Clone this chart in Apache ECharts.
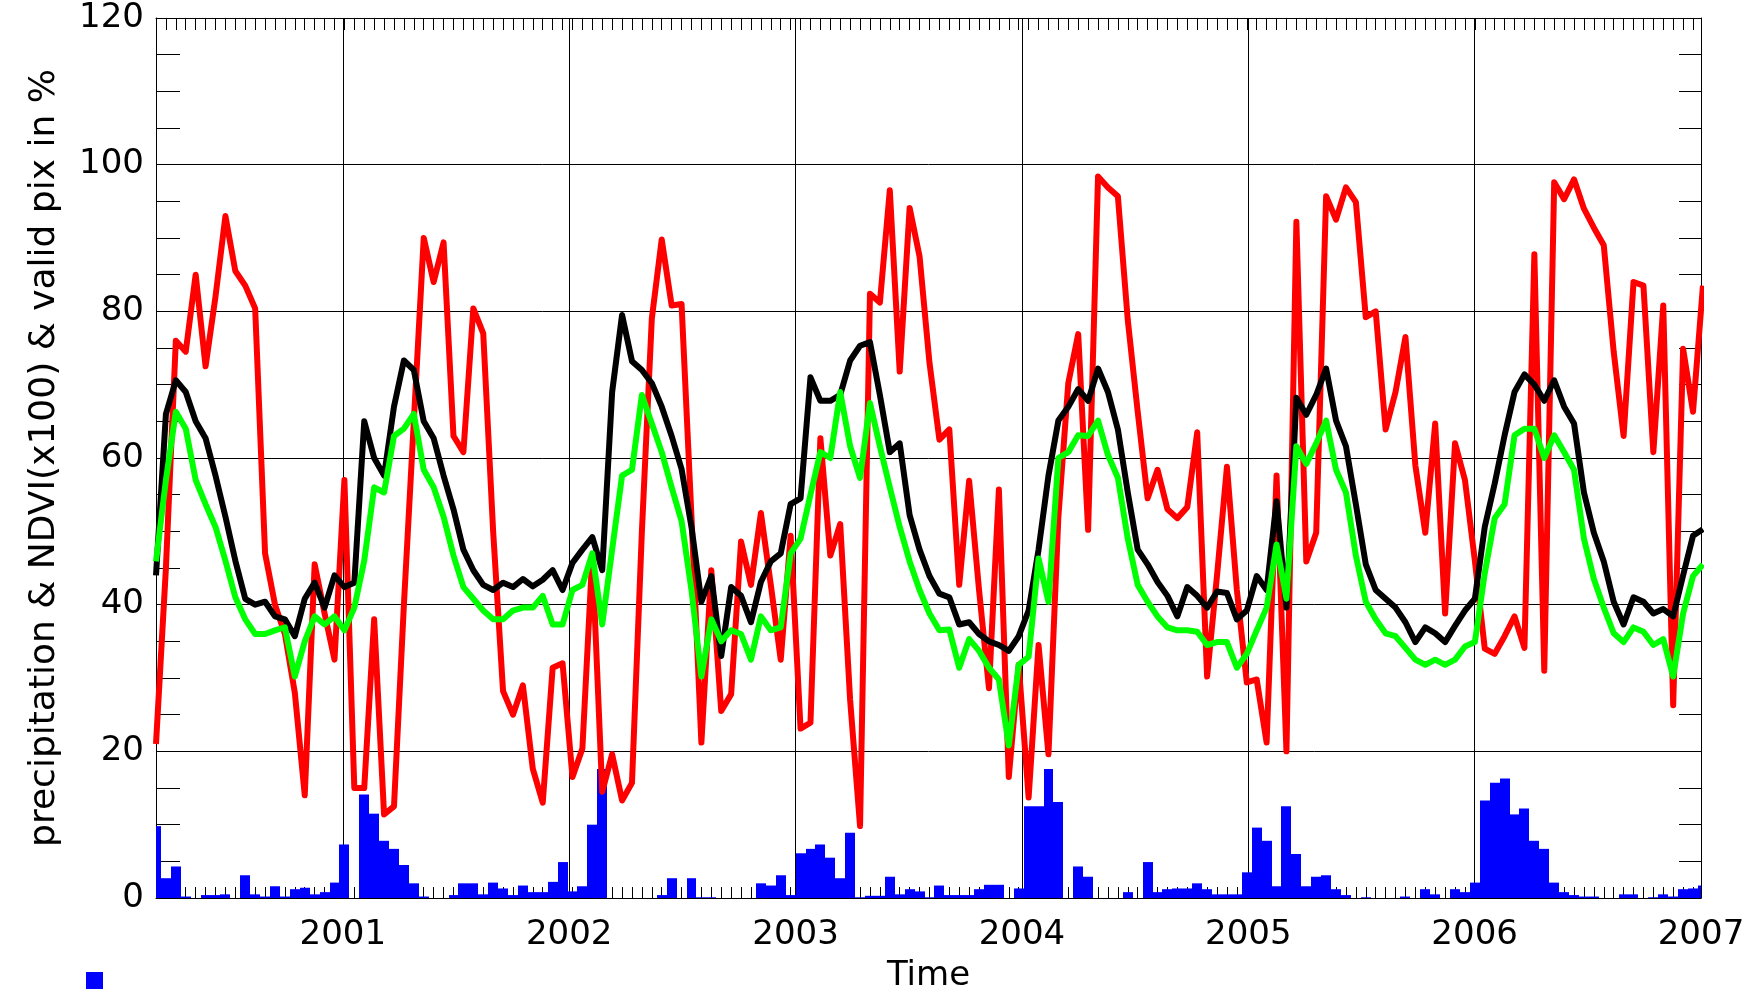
<!DOCTYPE html>
<html>
<head>
<meta charset="utf-8">
<script src="https://cdn.jsdelivr.net/npm/echarts@6/dist/echarts.min.js"></script>
<style>
html,body{margin:0;padding:0;background:#ffffff;}
#chart{width:1751px;height:989px;}
</style>
</head>
<body>
<div id="chart"></div>
<script>
// 16-day composites, first composite 2000-03-05 (day 65)
const START_YEAR = 2000 + 64 / 366;
const STEP_YEARS = 16 / 365.25;
const END_YEAR = 2007;

const yearTicks = [2001, 2002, 2003, 2004, 2005, 2006, 2007];
const yearLines = [2001, 2002, 2003, 2004, 2005, 2006];

// red: valid pixels in %
const validPix = [
  21, 45, 76, 74.5, 85, 72.5, 82, 93, 85.5, 83.5,
  80.4, 47, 40, 36, 28, 14, 45.5, 38.8, 32.5, 57,
  15, 15, 38, 11.4, 12.5, 40, 65, 90, 84, 89.4,
  63, 60.8, 80.4, 77, 50, 28.2, 25, 29, 17.6, 13,
  31.4, 32, 16.5, 20.4, 46.7, 14.5, 19.6, 13.3, 15.7, 50,
  79, 89.8, 80.8, 81, 52, 21.2, 44.7, 25.5, 27.8, 48.6,
  42.7, 52.5, 42.7, 32.5, 49.4, 23.1, 23.9, 62.7, 46.7, 51,
  27, 9.8, 82.4, 81.2, 96.5, 71.8, 94.1, 87.5, 73, 62.5,
  63.9, 42.7, 56.9, 42, 28.6, 55.7, 16.5, 31.8, 13.7, 34.5,
  19.6, 52, 70.2, 76.9, 50.2, 98.4, 96.9, 95.7, 78.8, 66.3,
  54.5, 58.4, 53, 51.8, 53.3, 63.5, 30.2, 44, 58.8, 42,
  29.4, 29.8, 21.2, 57.6, 20, 92.2, 45.9, 49.8, 95.7, 92.5,
  96.9, 94.9, 79.2, 80, 63.9, 69, 76.5, 59, 49.8, 64.7,
  38.8, 62, 57, 46, 34, 33.3, 35.7, 38.4, 34.1, 87.8,
  31, 97.6, 95.3, 98, 94, 91.4, 89, 74.5, 63, 84,
  83.5, 60.8, 80.8, 26.3, 74.9, 66.3, 83.5
];

// black: NDVI (x100)
const ndviBlack = [
  44, 66, 70.6, 69, 65, 62.7, 57.6, 52, 46, 40.8,
  40, 40.4, 38.4, 38, 35.7, 40.8, 43, 39.6, 44, 42.4,
  43, 65, 60, 57.6, 67, 73.3, 72, 65, 62.7, 57.6,
  53, 47.5, 44.7, 42.7, 42, 43, 42.4, 43.5, 42.5, 43.4,
  44.7, 42, 45.7, 47.5, 49.2, 44.7, 69, 79.5, 73.2, 72,
  70.2, 67, 63, 58.5, 50.6, 40.4, 43.9, 33, 42.4, 41.2,
  37.6, 43.1, 45.9, 47, 53.7, 54.5, 71, 67.8, 67.8, 68.6,
  73.3, 75.3, 75.8, 68.6, 60.8, 62, 52.2, 47.5, 43.9, 41.5,
  41, 37.3, 37.6, 36, 35, 34.5, 33.7, 35.7, 39.2, 47.5,
  57.6, 65.1, 67, 69.4, 67.8, 72.2, 69, 63.9, 55.3, 47.5,
  45.5, 43.1, 41.2, 38.4, 42.4, 41.2, 39.6, 41.8, 41.6, 38,
  39.2, 43.9, 42, 54.1, 39.6, 68.2, 65.9, 68.6, 72.2, 65.1,
  61.6, 53.7, 45.5, 42, 40.8, 39.6, 37.6, 34.9, 36.9, 36.1,
  34.9, 37.1, 39.2, 40.8, 50.6, 56.5, 63.1, 69, 71.4, 70,
  67.8, 70.6, 67, 64.7, 55.3, 49.8, 45.9, 40.4, 37.3, 41,
  40.4, 38.8, 39.4, 38.4, 44, 49.4, 50.3
];

// green: second NDVI (x100) series
const ndviGreen = [
  45.9, 57, 66.3, 64, 57, 53.7, 50.6, 46, 41, 38,
  36, 36, 36.5, 36.9, 30.2, 35, 38.4, 37.3, 38.4, 36.5,
  39.6, 46, 56, 55.3, 63, 64, 66, 58.4, 56, 52,
  46.7, 42.4, 40.8, 39.2, 38, 38, 39.2, 39.6, 39.6, 41.2,
  37.3, 37.3, 42, 42.7, 47, 37.3, 47.5, 57.6, 58.4, 68.6,
  64.7, 60.8, 56, 51.4, 42, 30.2, 38, 35, 36.5, 36,
  32.5, 38.4, 36.5, 36.9, 47, 49, 55, 60.8, 60, 69,
  61.6, 57.3, 67.5, 61.6, 56, 50.6, 45.9, 42, 38.8, 36.5,
  36.6, 31.4, 35.3, 33.7, 31.4, 29.8, 20.8, 31.8, 32.9, 46.3,
  40.4, 60, 60.8, 63.1, 63, 65.1, 60.4, 57.3, 49, 42.7,
  40.4, 38.4, 36.9, 36.5, 36.5, 36.3, 34.5, 34.9, 34.9, 31.4,
  33.3, 36.5, 39.6, 48.2, 40.8, 61.6, 59.2, 62, 65.1, 58.4,
  55.3, 46.7, 40.4, 38, 36.1, 35.7, 34.1, 32.5, 31.8, 32.5,
  31.8, 32.5, 34.3, 34.9, 44.3, 51.8, 53.7, 63.1, 64, 64,
  60, 63.1, 60.8, 58.4, 49, 43.5, 39.6, 36.1, 34.9, 36.9,
  36.3, 34.5, 35.3, 30.2, 38.8, 43.9, 45.5
];

// blue: precipitation
const precipitation = [
  9.8, 2.7, 4.3, 0.2, 0, 0.4, 0.4, 0.5, 0, 3.1,
  0.5, 0.2, 1.6, 0.2, 1.2, 1.4, 0.5, 0.8, 2.1, 7.3,
  0, 14.1, 11.5, 7.8, 6.7, 4.5, 2, 0.2, 0, 0,
  0.4, 2, 2, 0.5, 2.1, 1.3, 0.4, 1.7, 0.8, 0.8,
  2.2, 4.9, 0.9, 1.6, 10, 17.6, 0, 0, 0, 0,
  0, 0.4, 2.7, 0, 2.7, 0.1, 0.1, 0, 0, 0,
  0, 2, 1.7, 3.1, 0.4, 6.1, 6.7, 7.3, 5.5, 2.7,
  8.9, 0.1, 0.3, 0.3, 2.9, 0.5, 1.2, 0.9, 0.1, 1.7,
  0.4, 0.4, 0.4, 1.2, 1.8, 1.8, 0, 1.3, 12.5, 12.5,
  17.6, 13.1, 0, 4.3, 2.9, 0, 0, 0, 0.8, 0,
  4.9, 0.8, 1.2, 1.3, 1.3, 2, 1.2, 0.5, 0.5, 0.5,
  3.5, 9.6, 7.8, 1.6, 12.5, 6, 1.6, 2.9, 3.1, 1.2,
  0.4, 0, 0.1, 0, 0, 0, 0.2, 0, 1.2, 0.5,
  0, 1.2, 0.8, 2.1, 13.3, 15.7, 16.3, 11.4, 12.2, 7.8,
  6.7, 2.1, 0.8, 0.4, 0.2, 0.2, 0, 0, 0.5, 0.5,
  0, 0.1, 0.5, 0.2, 1.2, 1.3, 1.7
];

// the x axis is measured in composite steps from the first composite
const toIndex = year => (year - START_YEAR) / STEP_YEARS;
const toYear = idx => START_YEAR + idx * STEP_YEARS;
const X_MAX = toIndex(END_YEAR);
const pairs = arr => arr.map((v, i) => [i, v]);

const FONT = 'DejaVu Sans';
const chart = echarts.init(document.getElementById('chart'), null, {renderer: 'canvas'});

const axisLineStyle = {show: true, onZero: false, lineStyle: {color: '#000', width: 1}};

// histogram bar one composite wide, snapped to whole pixels and clipped to the plot area
function renderPrecipBar(params, api) {
  const i = api.value(0);
  const v = api.value(1);
  const base = api.coord([i - 0.5, 0]);
  const top = api.coord([i + 0.5, v]);
  const cs = params.coordSys;
  const x0 = Math.round(Math.max(base[0], cs.x));
  const x1 = Math.round(Math.min(top[0], cs.x + cs.width));
  if (x1 <= x0 || v <= 0) return null;
  return {
    type: 'rect',
    shape: {x: x0, y: top[1], width: x1 - x0, height: base[1] - top[1]},
    style: {fill: '#0000ff'}
  };
}

const option = {
  animation: false,
  backgroundColor: '#ffffff',
  grid: {left: 156, right: 50, top: 18, bottom: 91, containLabel: false, outerBoundsMode: 'none'},
  legend: {
    data: ['precipitation'],
    left: 86, top: 972,
    itemWidth: 17, itemHeight: 17,
    icon: 'rect',
    selectedMode: false,
    formatter: function () { return ''; },
    padding: 0
  },
  xAxis: [
    {
      type: 'value', min: 0, max: X_MAX, interval: 1, position: 'bottom',
      axisLine: axisLineStyle,
      axisTick: {show: true, inside: true, length: 11, lineStyle: {color: '#000', width: 1}},
      axisLabel: {show: true, customValues: yearTicks.map(toIndex), color: '#000',
                  fontFamily: FONT, fontSize: 34, margin: 20,
                  formatter: v => String(Math.round(toYear(v)))},
      splitLine: {show: false},
      name: 'Time', nameLocation: 'middle', nameGap: 61,
      nameTextStyle: {color: '#000', fontFamily: FONT, fontSize: 34}
    },
    {
      type: 'value', min: 0, max: X_MAX, interval: 1, position: 'top',
      axisLine: axisLineStyle,
      axisTick: {show: true, inside: true, length: 12, lineStyle: {color: '#000', width: 1}},
      axisLabel: {show: false},
      splitLine: {show: false}
    }
  ],
  yAxis: [
    {
      type: 'value', min: 0, max: 120, interval: 20, position: 'left',
      axisLine: axisLineStyle,
      axisTick: {show: true, inside: true, length: 24, lineStyle: {color: '#000', width: 1}},
      minorTick: {show: true, splitNumber: 4, length: 24, lineStyle: {color: '#000', width: 1}},
      splitLine: {show: true, lineStyle: {color: '#000', width: 1}},
      minorSplitLine: {show: false},
      axisLabel: {color: '#000', fontFamily: FONT, fontSize: 34, margin: 12},
      name: 'precipitation & NDVI(x100) & valid pix in %',
      nameLocation: 'middle', nameGap: 93, nameRotate: 90,
      nameTextStyle: {color: '#000', fontFamily: FONT, fontSize: 36}
    },
    {
      type: 'value', min: 0, max: 120, interval: 20, position: 'right',
      axisLine: axisLineStyle,
      axisTick: {show: true, inside: true, length: 22, lineStyle: {color: '#000', width: 1}},
      minorTick: {show: true, splitNumber: 4, length: 22, lineStyle: {color: '#000', width: 1}},
      splitLine: {show: false},
      axisLabel: {show: false}
    }
  ],
  series: [
    {
      name: 'precipitation', type: 'custom', xAxisIndex: 0, yAxisIndex: 0,
      data: pairs(precipitation),
      encode: {x: 0, y: 1},
      renderItem: renderPrecipBar,
      itemStyle: {color: '#0000ff'},
      clip: true,
      z: 2
    },
    {
      name: 'valid pix in %', type: 'line', xAxisIndex: 0, yAxisIndex: 0,
      data: pairs(validPix), showSymbol: false, clip: true, z: 3,
      lineStyle: {color: '#ff0000', width: 6, join: 'round'}, itemStyle: {color: '#ff0000'},
      markLine: {
        silent: true, symbol: ['none', 'none'], z: 1,
        label: {show: false},
        lineStyle: {color: '#000', width: 1, type: 'solid'},
        data: yearLines.map(y => ({xAxis: toIndex(y)}))
      }
    },
    {
      name: 'NDVI (x100)', type: 'line', xAxisIndex: 0, yAxisIndex: 0,
      data: pairs(ndviBlack), showSymbol: false, clip: true, z: 3,
      lineStyle: {color: '#000000', width: 6, join: 'round'}, itemStyle: {color: '#000000'}
    },
    {
      name: 'NDVI 2 (x100)', type: 'line', xAxisIndex: 0, yAxisIndex: 0,
      data: pairs(ndviGreen), showSymbol: false, clip: true, z: 3,
      lineStyle: {color: '#00ff00', width: 6, join: 'round'}, itemStyle: {color: '#00ff00'}
    }
  ]
};
chart.setOption(option);
</script>
</body>
</html>
